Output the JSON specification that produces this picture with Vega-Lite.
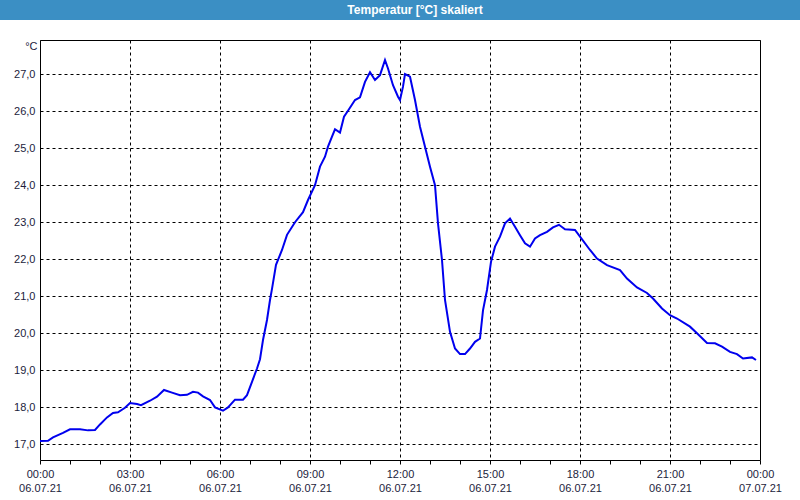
{
  "$schema": "https://vega.github.io/schema/vega-lite/v6.json",
  "background": "#ffffff",
  "padding": 0,
  "spacing": 20,
  "bounds": "flush",
  "center": true,
  "config": {"view": {"stroke": null}, "font": "Liberation Sans"},
  "datasets": {
    "temp": [
      {"t": "2021-07-06T00:00", "v": 17.09},
      {"t": "2021-07-06T00:16", "v": 17.10},
      {"t": "2021-07-06T00:26", "v": 17.19},
      {"t": "2021-07-06T00:46", "v": 17.31},
      {"t": "2021-07-06T01:00", "v": 17.41},
      {"t": "2021-07-06T01:20", "v": 17.41},
      {"t": "2021-07-06T01:36", "v": 17.38},
      {"t": "2021-07-06T01:50", "v": 17.39},
      {"t": "2021-07-06T02:00", "v": 17.54},
      {"t": "2021-07-06T02:14", "v": 17.73},
      {"t": "2021-07-06T02:26", "v": 17.85},
      {"t": "2021-07-06T02:36", "v": 17.87},
      {"t": "2021-07-06T02:50", "v": 17.99},
      {"t": "2021-07-06T03:00", "v": 18.12},
      {"t": "2021-07-06T03:14", "v": 18.09},
      {"t": "2021-07-06T03:22", "v": 18.06},
      {"t": "2021-07-06T03:40", "v": 18.18},
      {"t": "2021-07-06T03:54", "v": 18.29},
      {"t": "2021-07-06T04:08", "v": 18.47},
      {"t": "2021-07-06T04:24", "v": 18.40},
      {"t": "2021-07-06T04:40", "v": 18.33},
      {"t": "2021-07-06T04:54", "v": 18.34},
      {"t": "2021-07-06T05:06", "v": 18.42},
      {"t": "2021-07-06T05:16", "v": 18.40},
      {"t": "2021-07-06T05:26", "v": 18.30},
      {"t": "2021-07-06T05:40", "v": 18.20},
      {"t": "2021-07-06T05:50", "v": 18.00},
      {"t": "2021-07-06T06:06", "v": 17.91},
      {"t": "2021-07-06T06:16", "v": 18.00},
      {"t": "2021-07-06T06:30", "v": 18.21},
      {"t": "2021-07-06T06:46", "v": 18.21},
      {"t": "2021-07-06T06:54", "v": 18.33},
      {"t": "2021-07-06T07:04", "v": 18.69},
      {"t": "2021-07-06T07:14", "v": 19.05},
      {"t": "2021-07-06T07:20", "v": 19.30},
      {"t": "2021-07-06T07:26", "v": 19.82},
      {"t": "2021-07-06T07:34", "v": 20.36},
      {"t": "2021-07-06T07:40", "v": 20.90},
      {"t": "2021-07-06T07:44", "v": 21.20},
      {"t": "2021-07-06T07:52", "v": 21.85},
      {"t": "2021-07-06T08:04", "v": 22.25},
      {"t": "2021-07-06T08:14", "v": 22.66},
      {"t": "2021-07-06T08:30", "v": 23.00},
      {"t": "2021-07-06T08:46", "v": 23.27},
      {"t": "2021-07-06T08:56", "v": 23.60},
      {"t": "2021-07-06T09:10", "v": 24.00},
      {"t": "2021-07-06T09:20", "v": 24.50},
      {"t": "2021-07-06T09:30", "v": 24.77},
      {"t": "2021-07-06T09:36", "v": 25.04},
      {"t": "2021-07-06T09:44", "v": 25.31},
      {"t": "2021-07-06T09:50", "v": 25.51},
      {"t": "2021-07-06T10:00", "v": 25.42},
      {"t": "2021-07-06T10:08", "v": 25.85},
      {"t": "2021-07-06T10:16", "v": 26.01},
      {"t": "2021-07-06T10:30", "v": 26.30},
      {"t": "2021-07-06T10:40", "v": 26.37},
      {"t": "2021-07-06T10:50", "v": 26.79},
      {"t": "2021-07-06T11:00", "v": 27.05},
      {"t": "2021-07-06T11:10", "v": 26.84},
      {"t": "2021-07-06T11:20", "v": 26.97},
      {"t": "2021-07-06T11:30", "v": 27.38},
      {"t": "2021-07-06T11:36", "v": 27.15},
      {"t": "2021-07-06T11:46", "v": 26.70},
      {"t": "2021-07-06T11:56", "v": 26.39},
      {"t": "2021-07-06T12:00", "v": 26.30},
      {"t": "2021-07-06T12:06", "v": 26.66},
      {"t": "2021-07-06T12:10", "v": 27.00},
      {"t": "2021-07-06T12:20", "v": 26.93},
      {"t": "2021-07-06T12:30", "v": 26.30},
      {"t": "2021-07-06T12:40", "v": 25.58},
      {"t": "2021-07-06T12:50", "v": 25.04},
      {"t": "2021-07-06T13:00", "v": 24.50},
      {"t": "2021-07-06T13:10", "v": 24.00},
      {"t": "2021-07-06T13:16", "v": 22.97},
      {"t": "2021-07-06T13:24", "v": 21.98},
      {"t": "2021-07-06T13:30", "v": 20.90},
      {"t": "2021-07-06T13:40", "v": 20.04},
      {"t": "2021-07-06T13:50", "v": 19.59},
      {"t": "2021-07-06T14:00", "v": 19.44},
      {"t": "2021-07-06T14:10", "v": 19.44},
      {"t": "2021-07-06T14:20", "v": 19.59},
      {"t": "2021-07-06T14:30", "v": 19.77},
      {"t": "2021-07-06T14:40", "v": 19.86},
      {"t": "2021-07-06T14:46", "v": 20.62},
      {"t": "2021-07-06T14:54", "v": 21.17},
      {"t": "2021-07-06T15:02", "v": 21.93},
      {"t": "2021-07-06T15:10", "v": 22.34},
      {"t": "2021-07-06T15:20", "v": 22.61},
      {"t": "2021-07-06T15:30", "v": 22.97},
      {"t": "2021-07-06T15:40", "v": 23.10},
      {"t": "2021-07-06T15:50", "v": 22.88},
      {"t": "2021-07-06T16:00", "v": 22.65},
      {"t": "2021-07-06T16:10", "v": 22.43},
      {"t": "2021-07-06T16:20", "v": 22.34},
      {"t": "2021-07-06T16:30", "v": 22.56},
      {"t": "2021-07-06T16:40", "v": 22.65},
      {"t": "2021-07-06T16:54", "v": 22.74},
      {"t": "2021-07-06T17:06", "v": 22.86},
      {"t": "2021-07-06T17:18", "v": 22.93},
      {"t": "2021-07-06T17:30", "v": 22.81},
      {"t": "2021-07-06T17:50", "v": 22.79},
      {"t": "2021-07-06T18:00", "v": 22.61},
      {"t": "2021-07-06T18:20", "v": 22.25},
      {"t": "2021-07-06T18:34", "v": 22.02},
      {"t": "2021-07-06T18:54", "v": 21.84},
      {"t": "2021-07-06T19:20", "v": 21.71},
      {"t": "2021-07-06T19:34", "v": 21.48},
      {"t": "2021-07-06T19:54", "v": 21.24},
      {"t": "2021-07-06T20:14", "v": 21.09},
      {"t": "2021-07-06T20:26", "v": 20.94},
      {"t": "2021-07-06T20:44", "v": 20.67},
      {"t": "2021-07-06T21:00", "v": 20.49},
      {"t": "2021-07-06T21:14", "v": 20.40},
      {"t": "2021-07-06T21:40", "v": 20.18},
      {"t": "2021-07-06T21:54", "v": 20.00},
      {"t": "2021-07-06T22:14", "v": 19.74},
      {"t": "2021-07-06T22:30", "v": 19.73},
      {"t": "2021-07-06T22:44", "v": 19.64},
      {"t": "2021-07-06T23:00", "v": 19.50},
      {"t": "2021-07-06T23:14", "v": 19.44},
      {"t": "2021-07-06T23:26", "v": 19.32},
      {"t": "2021-07-06T23:44", "v": 19.35},
      {"t": "2021-07-06T23:52", "v": 19.28}
    ]
  },
  "vconcat": [
    {
      "width": 800,
      "height": 20,
      "view": {"fill": "#3b8fc4", "stroke": null},
      "data": {"values": [{"label": "Temperatur [°C] skaliert"}]},
      "mark": {"type": "text", "color": "#ffffff", "fontWeight": "bold", "fontSize": 12, "font": "Liberation Sans", "dx": 15, "baseline": "middle", "align": "center"},
      "encoding": {"text": {"field": "label", "type": "nominal"}}
    },
    {
      "width": 720,
      "height": 420,
      "view": {"stroke": "#000000", "strokeWidth": 1, "fill": "#ffffff"},
      "data": {"name": "temp"},
      "resolve": {"axis": {"x": "independent"}},
      "layer": [
        {
          "mark": {"type": "line", "color": "#0000ee", "strokeWidth": 2},
          "encoding": {
            "x": {
              "field": "t",
              "type": "temporal",
              "scale": {"domain": [{"year": 2021, "month": 7, "date": 6, "hours": 0}, {"year": 2021, "month": 7, "date": 7, "hours": 0}], "nice": false},
              "axis": {
                "title": null,
                "orient": "bottom",
                "domain": false,
                "grid": false,
                "values": [
                  {"year": 2021, "month": 7, "date": 6, "hours": 0}, {"year": 2021, "month": 7, "date": 6, "hours": 1}, {"year": 2021, "month": 7, "date": 6, "hours": 2},
                  {"year": 2021, "month": 7, "date": 6, "hours": 3}, {"year": 2021, "month": 7, "date": 6, "hours": 4}, {"year": 2021, "month": 7, "date": 6, "hours": 5},
                  {"year": 2021, "month": 7, "date": 6, "hours": 6}, {"year": 2021, "month": 7, "date": 6, "hours": 7}, {"year": 2021, "month": 7, "date": 6, "hours": 8},
                  {"year": 2021, "month": 7, "date": 6, "hours": 9}, {"year": 2021, "month": 7, "date": 6, "hours": 10}, {"year": 2021, "month": 7, "date": 6, "hours": 11},
                  {"year": 2021, "month": 7, "date": 6, "hours": 12}, {"year": 2021, "month": 7, "date": 6, "hours": 13}, {"year": 2021, "month": 7, "date": 6, "hours": 14},
                  {"year": 2021, "month": 7, "date": 6, "hours": 15}, {"year": 2021, "month": 7, "date": 6, "hours": 16}, {"year": 2021, "month": 7, "date": 6, "hours": 17},
                  {"year": 2021, "month": 7, "date": 6, "hours": 18}, {"year": 2021, "month": 7, "date": 6, "hours": 19}, {"year": 2021, "month": 7, "date": 6, "hours": 20},
                  {"year": 2021, "month": 7, "date": 6, "hours": 21}, {"year": 2021, "month": 7, "date": 6, "hours": 22}, {"year": 2021, "month": 7, "date": 6, "hours": 23},
                  {"year": 2021, "month": 7, "date": 7, "hours": 0}
                ],
                "tickSize": 4,
                "tickColor": "#000000",
                "labelExpr": "hours(datum.value) % 3 == 0 ? timeFormat(datum.value, '%H:%M') : ''",
                "labelOverlap": false,
                "labelFlush": false,
                "labelPadding": 4,
                "labelFontSize": 11,
                "labelBaseline": "top",
                "labelColor": "#1c1c3c"
              }
            },
            "y": {
              "field": "v",
              "type": "quantitative",
              "scale": {"domain": [16.58, 27.92], "nice": false, "zero": false},
              "axis": {
                "title": "°C",
                "titleAngle": 0,
                "titleAlign": "right",
                "titleBaseline": "middle",
                "titleX": -3,
                "titleY": 6,
                "titleFontWeight": "normal",
                "titleFontSize": 11,
                "titleColor": "#1c1c3c",
                "domain": false,
                "values": [17, 18, 19, 20, 21, 22, 23, 24, 25, 26, 27],
                "tickSize": 0,
                "labelPadding": 5,
                "labelExpr": "replace(format(datum.value, '.1f'), '.', ',')",
                "labelFontSize": 11,
                "labelColor": "#1c1c3c",
                "grid": true,
                "gridColor": "#000000",
                "gridDash": [3, 3]
              }
            }
          }
        },
        {
          "mark": {"type": "line", "strokeOpacity": 0},
          "encoding": {
            "x": {
              "field": "t",
              "type": "temporal",
              "axis": {
                "title": null,
                "orient": "bottom",
                "domain": false,
                "ticks": false,
                "grid": true,
                "gridColor": "#000000",
                "gridDash": [3, 3],
                "values": [
                  {"year": 2021, "month": 7, "date": 6, "hours": 0}, {"year": 2021, "month": 7, "date": 6, "hours": 3},
                  {"year": 2021, "month": 7, "date": 6, "hours": 6}, {"year": 2021, "month": 7, "date": 6, "hours": 9},
                  {"year": 2021, "month": 7, "date": 6, "hours": 12}, {"year": 2021, "month": 7, "date": 6, "hours": 15},
                  {"year": 2021, "month": 7, "date": 6, "hours": 18}, {"year": 2021, "month": 7, "date": 6, "hours": 21},
                  {"year": 2021, "month": 7, "date": 7, "hours": 0}
                ],
                "labelExpr": "timeFormat(datum.value, '%d.%m.%y')",
                "labelOverlap": false,
                "labelFlush": false,
                "labelPadding": 22,
                "labelFontSize": 11,
                "labelBaseline": "top",
                "labelColor": "#1c1c3c"
              }
            },
            "y": {"field": "v", "type": "quantitative"}
          }
        }
      ]
    }
  ]
}
